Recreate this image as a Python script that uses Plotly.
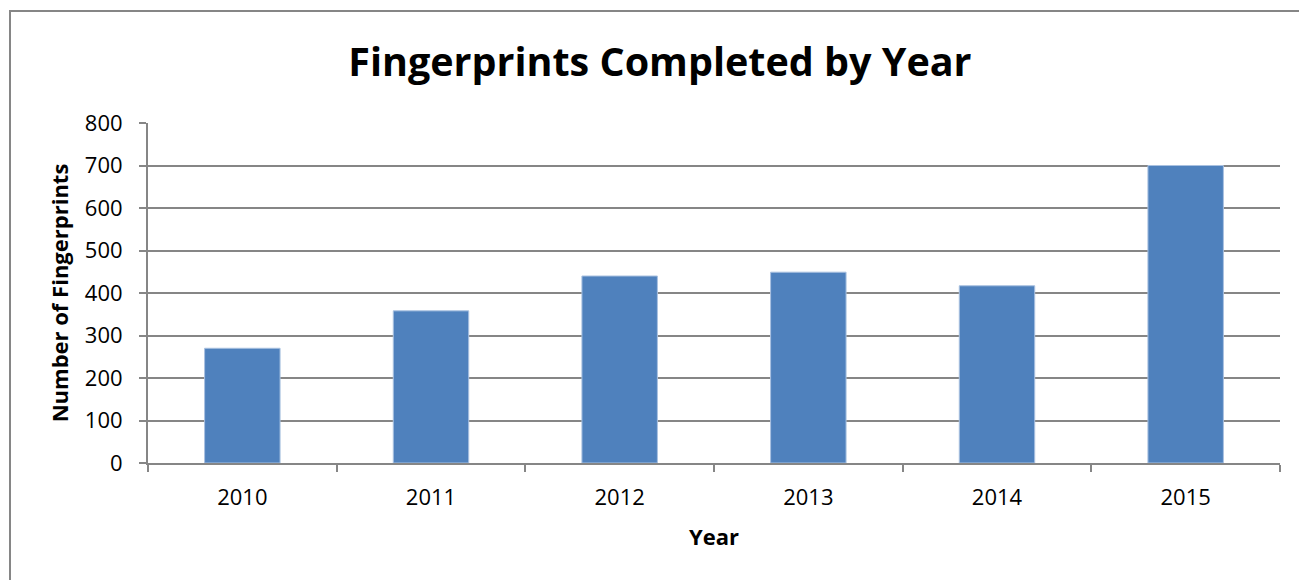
import plotly.graph_objects as go

# Annual fingerprint totals
years = ["2010", "2011", "2012", "2013", "2014", "2015"]
fingerprints = [270, 358, 440, 449, 417, 700]
y_ticks = [0, 100, 200, 300, 400, 500, 600, 700, 800]

GRID = "#868686"
FONT = "Open Sans, Lato, sans-serif"

fig = go.Figure(
    go.Bar(
        x=years,
        y=fingerprints,
        marker=dict(color="#4F81BD", line=dict(color="#a9c1e0", width=1)),
    )
)

fig.update_layout(
    width=1299,
    height=580,
    margin=dict(l=148, r=19, t=123, b=117),
    paper_bgcolor="white",
    plot_bgcolor="white",
    bargap=0.6,
    showlegend=False,
    font=dict(family=FONT, color="black"),
    title=dict(
        text="<b>Fingerprints Completed by Year</b>",
        x=0.508,
        xanchor="center",
        y=0.893,
        yanchor="middle",
        font=dict(size=39.5, family=FONT, color="black"),
    ),
    xaxis=dict(
        type="category",
        showline=True,
        linecolor=GRID,
        linewidth=2,
        ticks="outside",
        tickson="boundaries",
        ticklen=7,
        tickwidth=2,
        tickcolor=GRID,
        tickfont=dict(size=22),
        ticklabelstandoff=14,
        title=dict(text="<b>Year</b>", font=dict(size=22), standoff=19),
        showgrid=False,
    ),
    yaxis=dict(
        range=[0, 800],
        tickvals=y_ticks,
        showline=True,
        linecolor=GRID,
        linewidth=2,
        ticks="outside",
        ticklen=7,
        tickwidth=2,
        tickcolor=GRID,
        tickfont=dict(size=22),
        ticklabelstandoff=12,
        showgrid=True,
        gridcolor=GRID,
        gridwidth=2,
        zeroline=False,
        title=dict(text="<b>Number of Fingerprints</b>", font=dict(size=22), standoff=10),
    ),
    shapes=[
        dict(
            type="rect",
            xref="paper",
            yref="paper",
            x0=(10 - 148) / 1132,
            x1=1.2,
            y0=-0.6,
            y1=(463 - 11) / 340,
            line=dict(color=GRID, width=2),
            fillcolor="rgba(0,0,0,0)",
            layer="below",
        )
    ],
)

fig.write_html("out.html")
